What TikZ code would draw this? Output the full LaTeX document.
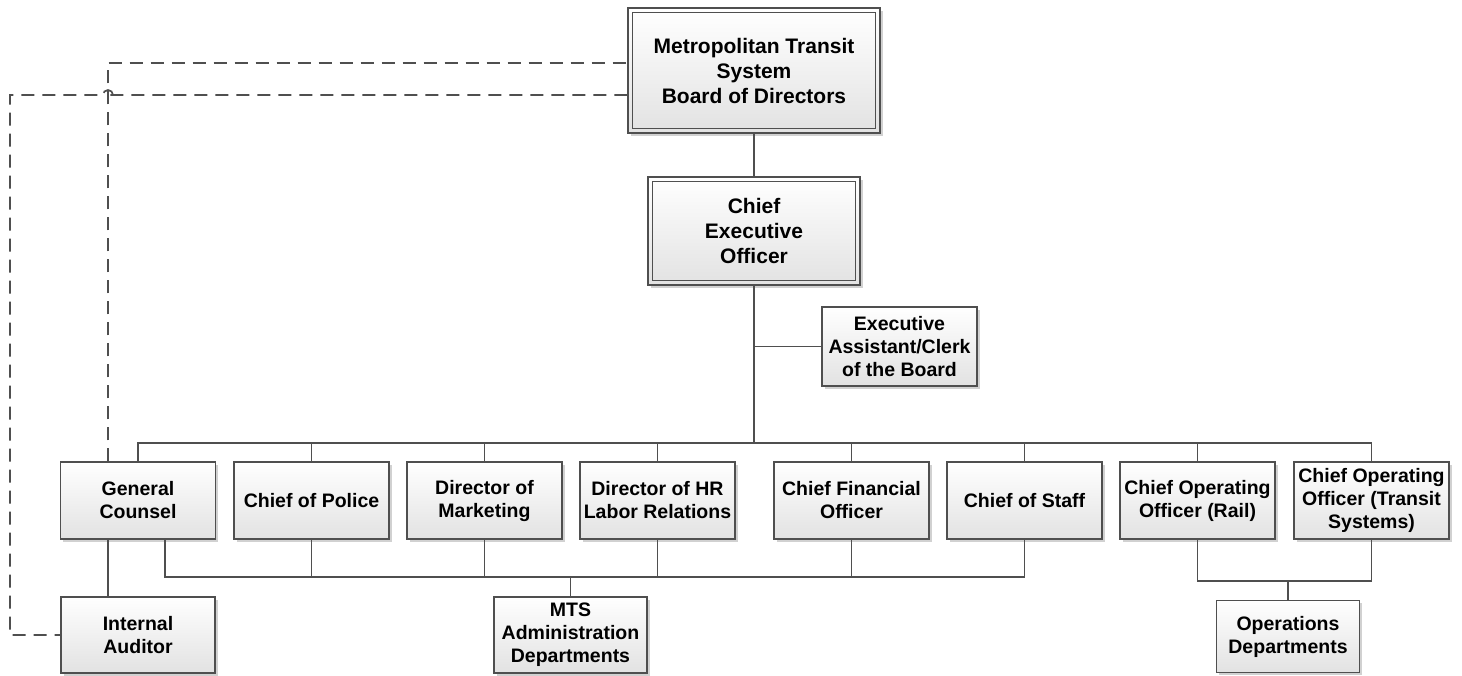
\documentclass[tikz,border=0pt]{standalone}
\usepackage{fontspec}
\setmainfont{Liberation Sans}
\usetikzlibrary{shadows}
\definecolor{edge}{HTML}{4F4F4F}
\definecolor{boxbot}{HTML}{E2E2E2}
\tikzset{
  orgbox/.style={draw=edge, line width=1.3pt, top color=white, bottom color=boxbot,
    align=center, inner sep=2pt, font=\bfseries\fontsize{19.5}{23}\selectfont,
    drop shadow={shadow xshift=2.5pt, shadow yshift=-2.5pt, fill=black, opacity=0.18}},
  topbox/.style={orgbox, font=\bfseries\fontsize{21}{25}\selectfont},
  conn/.style={draw=edge, line width=1.3pt},
  dconn/.style={draw=edge, line width=1.7pt, dash pattern=on 13pt off 8pt}
}
\begin{document}
\begin{tikzpicture}[x=1pt,y=-1pt]
\useasboundingbox (0,0) rectangle (1462,675);
% top boxes
\node[topbox, minimum width=252pt, minimum height=125pt] (board) at (754,70.5)
  {Metropolitan Transit\\System\\Board of Directors};
\draw[conn] ([shift={(5pt,-5pt)}]board.north west) rectangle ([shift={(-5pt,5pt)}]board.south east);
\node[topbox, minimum width=212pt, minimum height=108pt] (ceo) at (754,231)
  {Chief\\Executive\\Officer};
\draw[conn] ([shift={(5pt,-5pt)}]ceo.north west) rectangle ([shift={(-5pt,5pt)}]ceo.south east);
\node[orgbox, minimum width=155pt, minimum height=79pt] (ea) at (899.5,346.5)
  {Executive\\Assistant/Clerk\\of the Board};
% row
\foreach \n/\x/\t in {gc/138/{General\\Counsel}, cop/311.5/{Chief of Police},
  dom/484.5/{Director of\\Marketing}, dhr/657.5/{Director of HR\\Labor Relations},
  cfo/851.5/{Chief Financial\\Officer}, cos/1024.5/{Chief of Staff},
  coor/1197.5/{Chief Operating\\Officer (Rail)}, coot/1371.5/{Chief Operating\\Officer (Transit\\Systems)}}
  \node[orgbox, minimum width=155pt, minimum height=77pt] (\n) at (\x,500.5) {\t};
% bottom boxes
\node[orgbox, minimum width=154pt, minimum height=76pt] (ia) at (138,635) {Internal\\Auditor};
\node[orgbox, minimum width=153pt, minimum height=76pt] (mts) at (570.5,635) {MTS\\Administration\\Departments};
\node[orgbox, minimum width=143pt, minimum height=72pt] (ops) at (1288,636.5) {Operations\\Departments};
% bus coordinates
\coordinate (b1) at (754,443);
\coordinate (b2) at (570.5,577);
\coordinate (b3) at (1288,581);
\coordinate (dl) at (10,95);
% solid connectors
\draw[conn] (board.south) -- (ceo.north);
\draw[conn] (ceo.south) -- (b1);
\draw[conn] (ceo.south |- ea.west) -- (ea.west);
\foreach \n in {gc,cop,dom,dhr,cfo,cos,coor,coot}
  \draw[conn] (b1) -| (\n.north);
\draw[conn] (mts.north) -- (b2);
\foreach \n in {cop,dom,dhr,cfo,cos}
  \draw[conn] (b2) -| (\n.south);
\draw[conn] (b2) -| ([xshift=27pt]gc.south);
\draw[conn] ([xshift=-30pt]gc.south) -- ([xshift=-30pt]ia.north);
\draw[conn] (ops.north) -- (b3);
\draw[conn] (b3) -| (coor.south);
\draw[conn] (b3) -| (coot.south);
% dashed connectors
\draw[dconn] ([xshift=-30pt]gc.north) |- ([yshift=7.5pt]board.west);
\draw[dconn] ([yshift=-24.5pt]board.west) -- ([xshift=-30pt]gc.north |- dl)
  ++(5pt,0) arc[start angle=0, end angle=180, radius=5pt] -- (dl) |- (ia.west);
\end{tikzpicture}
\end{document}
